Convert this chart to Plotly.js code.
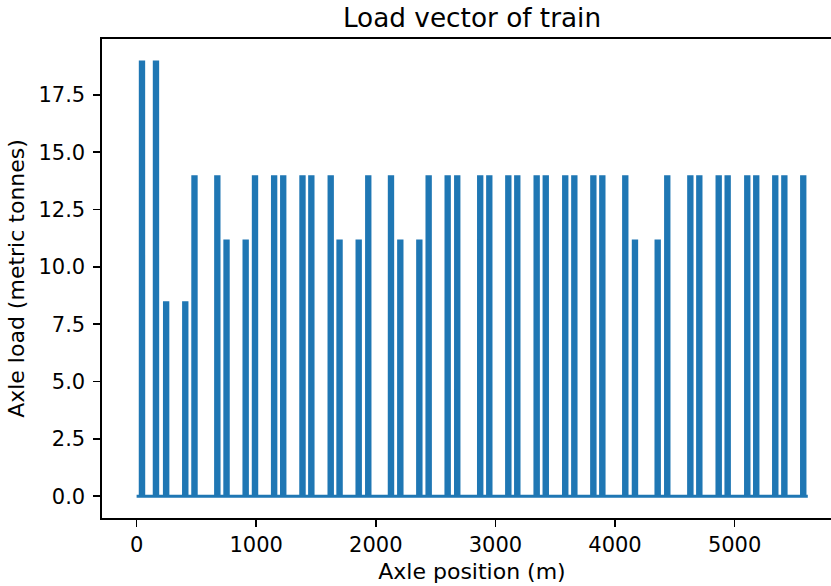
<!DOCTYPE html>
<html><head><meta charset="utf-8">
<script src="https://cdn.plot.ly/plotly-3.0.1.min.js"></script>
<style>html,body{margin:0;padding:0;overflow:hidden;background:#fff}#chart{width:842px;height:586px}</style>
</head><body><div id="chart"></div><script>
// Axle-group (car) centre positions along the train, metres
const groupPos = [45,162,247,407,484,675,752,912,990,1150,
  1226,1387,1461,1623,1697,1857,1937,2127,2205,2364,
  2442,2601,2681,2873,2949,3108,3183,3345,3421,3584,
  3660,3819,3894,4086,4167,4357,4437,4630,4705,4867,
  4942,5106,5181,5340,5416,5574];
// Axle load of each group, metric tonnes
const groupLoad = [19,19,8.5,8.5,14,14,11.2,11.2,14,14,
  14,14,14,14,11.2,11.2,14,14,11.2,11.2,
  14,14,14,14,14,14,14,14,14,14,
  14,14,14,14,11.2,11.2,14,14,14,14,
  14,14,14,14,14,14];
// Axle offsets from group centre (m)
const axleOffsets = [-14, -4.5, 4.5, 14];
const trackStart = 0, trackEnd = 5612;
const xTicks = [0,1000,2000,3000,4000,5000];
const yTicks = [0,2.5,5,7.5,10,12.5,15,17.5];
const yTickText = ['0.0','2.5','5.0','7.5','10.0','12.5','15.0','17.5'];

const xs = [trackStart], ys = [0];
groupPos.forEach((p, i) => {
  axleOffsets.forEach(o => {
    const a = p + o;
    xs.push(a - 0.5, a, a + 0.5);
    ys.push(0, groupLoad[i], 0);
  });
});
xs.push(trackEnd); ys.push(0);

const font = {family: 'DejaVu Sans', size: 21, color: '#000'};
const labelFont = {family: 'DejaVu Sans', size: 22, color: '#000'};
const axisCommon = {
  showline: true, linecolor: '#000', linewidth: 1.6,
  ticks: 'outside', ticklen: 7, tickwidth: 1.6, tickcolor: '#000',
  showgrid: false, zeroline: false, tickfont: font
};

Plotly.newPlot('chart', [{
  x: xs, y: ys, type: 'scatter', mode: 'lines',
  line: {color: '#1f77b4', width: 3, simplify: false}, hoverinfo: 'skip'
}], {
  width: 842, height: 586,
  margin: {l: 102, r: 0, t: 39, b: 68},
  paper_bgcolor: '#fff', plot_bgcolor: '#fff',
  showlegend: false,
  font: font,
  title: {text: 'Load vector of train', font: {family: 'DejaVu Sans', size: 26.3, color: '#000'},
    x: 0.5, xref: 'paper', xanchor: 'center', y: 1 - 17.5/586, yref: 'container', yanchor: 'middle'},
  xaxis: Object.assign({}, axisCommon, {
    range: [-289.3, 5898], tickvals: xTicks, ticktext: xTicks.map(String), mirror: true,
    title: {text: 'Axle position (m)', font: labelFont, standoff: 8}
  }),
  yaxis: Object.assign({}, axisCommon, {
    range: [-0.946, 19.94], tickvals: yTicks, ticktext: yTickText,
    ticklabelstandoff: 4,
    title: {text: 'Axle load (metric tonnes)', font: labelFont, standoff: 8}
  })
}, {staticPlot: true});
</script></body></html>
